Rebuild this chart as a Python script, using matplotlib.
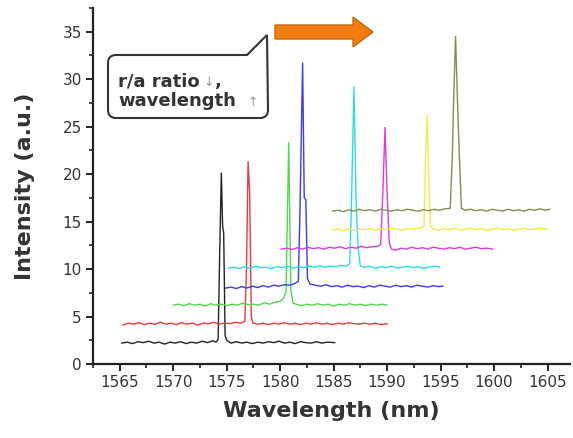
import numpy as np
import matplotlib
matplotlib.use('Agg')
import matplotlib.pyplot as plt
from matplotlib.path import Path
from matplotlib.patches import PathPatch, Polygon
from matplotlib.ticker import MultipleLocator

# ---- spectra: wavelength (nm) / intensity (a.u.) ----
x_k = [1565.2, 1565.7, 1566.2, 1566.7, 1567.2, 1567.7, 1568.2, 1568.7, 1569.2, 1569.7,
       1570.2, 1570.7, 1571.2, 1571.7, 1572.2, 1572.7, 1573.2, 1573.7, 1574.0, 1574.2,
       1574.35, 1574.5, 1574.62, 1574.72, 1574.85, 1575.0, 1575.4, 1575.9, 1576.4, 1576.9,
       1577.4, 1577.9, 1578.4, 1578.9, 1579.4, 1579.9, 1580.4, 1580.9, 1581.4, 1581.9,
       1582.4, 1582.9, 1583.4, 1583.9, 1584.4, 1585.1]
y_k = [2.2, 2.3, 2.15, 2.35, 2.25, 2.4, 2.2, 2.3, 2.1, 2.3,
       2.2, 2.35, 2.15, 2.3, 2.2, 2.4, 2.25, 2.45, 2.3, 2.6,
       12.0, 20.1, 14.5, 13.8, 3.0, 2.5, 2.2, 2.35, 2.2, 2.3,
       2.15, 2.3, 2.2, 2.35, 2.25, 2.4, 2.2, 2.3, 2.15, 2.35,
       2.25, 2.2, 2.35, 2.2, 2.3, 2.25]

x_r = [1565.3, 1565.8, 1566.3, 1566.8, 1567.3, 1567.8, 1568.3, 1568.8, 1569.3, 1569.8,
       1570.3, 1570.8, 1571.3, 1571.8, 1572.3, 1572.8, 1573.3, 1573.8, 1574.3, 1574.8,
       1575.3, 1575.8, 1576.3, 1576.7, 1576.85, 1577.0, 1577.15, 1577.3, 1577.45, 1577.9,
       1578.4, 1578.9, 1579.4, 1579.9, 1580.4, 1580.9, 1581.4, 1581.9, 1582.4, 1582.9,
       1583.4, 1583.9, 1584.4, 1584.9, 1585.4, 1585.9, 1586.4, 1586.9, 1587.4, 1587.9,
       1588.4, 1588.9, 1589.4, 1590.0]
y_r = [4.1, 4.3, 4.2, 4.35, 4.15, 4.3, 4.2, 4.4, 4.2, 4.3,
       4.15, 4.35, 4.2, 4.3, 4.1, 4.3, 4.25, 4.4, 4.2, 4.3,
       4.25, 4.4, 4.3, 4.5, 10.0, 21.3, 18.0, 5.0, 4.3, 4.2,
       4.3, 4.15, 4.3, 4.2, 4.35, 4.2, 4.3, 4.15, 4.3, 4.2,
       4.35, 4.2, 4.3, 4.15, 4.3, 4.2, 4.35, 4.25, 4.2, 4.3,
       4.2, 4.3, 4.15, 4.25]

x_g = [1570.0, 1570.5, 1571.0, 1571.5, 1572.0, 1572.5, 1573.0, 1573.5, 1574.0, 1574.5,
       1575.0, 1575.5, 1576.0, 1576.5, 1577.0, 1577.5, 1578.0, 1578.5, 1579.0, 1579.5,
       1580.0, 1580.3, 1580.55, 1580.8, 1581.0, 1581.2, 1581.5, 1582.0, 1582.5, 1583.0,
       1583.5, 1584.0, 1584.5, 1585.0, 1585.5, 1586.0, 1586.5, 1587.0, 1587.5, 1588.0,
       1588.5, 1589.0, 1589.5, 1590.0]
y_g = [6.2, 6.3, 6.15, 6.35, 6.2, 6.3, 6.1, 6.35, 6.2, 6.3,
       6.15, 6.3, 6.2, 6.4, 6.25, 6.3, 6.2, 6.45, 6.3, 6.5,
       6.6, 6.9, 7.6, 23.3, 7.8, 6.4, 6.3, 6.15, 6.3, 6.2,
       6.35, 6.2, 6.3, 6.1, 6.3, 6.2, 6.35, 6.2, 6.3, 6.15,
       6.3, 6.2, 6.3, 6.2]

x_b = [1574.9, 1575.4, 1575.9, 1576.4, 1576.9, 1577.4, 1577.9, 1578.4, 1578.9, 1579.4,
       1579.9, 1580.4, 1580.9, 1581.4, 1581.7, 1581.85, 1582.1, 1582.25, 1582.4, 1582.55,
       1582.8, 1583.3, 1583.8, 1584.3, 1584.8, 1585.3, 1585.8, 1586.3, 1586.8, 1587.3,
       1587.8, 1588.3, 1588.8, 1589.3, 1589.8, 1590.3, 1590.8, 1591.3, 1591.8, 1592.3,
       1592.8, 1593.3, 1593.8, 1594.3, 1594.8, 1595.2]
y_b = [8.0, 8.1, 7.95, 8.15, 8.0, 8.2, 8.05, 8.25, 8.1, 8.3,
       8.2, 8.35, 8.3, 8.5, 8.7, 16.0, 31.7, 17.5, 17.3, 9.0,
       8.4, 8.3, 8.2, 8.35, 8.15, 8.25, 8.1, 8.3, 8.15, 8.2,
       8.05, 8.25, 8.1, 8.3, 8.2, 8.1, 8.3, 8.15, 8.25, 8.1,
       8.3, 8.2, 8.1, 8.25, 8.15, 8.2]

x_c = [1575.2, 1575.7, 1576.2, 1576.7, 1577.2, 1577.7, 1578.2, 1578.7, 1579.2, 1579.7,
       1580.2, 1580.7, 1581.2, 1581.7, 1582.2, 1582.7, 1583.2, 1583.7, 1584.2, 1584.7,
       1585.2, 1585.7, 1586.2, 1586.5, 1586.65, 1586.9, 1587.1, 1587.3, 1587.5, 1587.9,
       1588.4, 1588.9, 1589.4, 1589.9, 1590.4, 1590.9, 1591.4, 1591.9, 1592.4, 1592.9,
       1593.4, 1593.9, 1594.4, 1594.9]
y_c = [10.1, 10.2, 10.05, 10.25, 10.1, 10.3, 10.15, 10.2, 10.05, 10.25,
       10.15, 10.3, 10.1, 10.25, 10.15, 10.3, 10.2, 10.35, 10.2, 10.3,
       10.25, 10.4, 10.3, 10.6, 16.0, 29.2, 17.0, 12.0, 10.3, 10.2,
       10.3, 10.1, 10.25, 10.15, 10.3, 10.1, 10.2, 10.3, 10.15, 10.25,
       10.1, 10.2, 10.3, 10.2]

x_m = [1580.1, 1580.6, 1581.1, 1581.6, 1582.1, 1582.6, 1583.1, 1583.6, 1584.1, 1584.6,
       1585.1, 1585.6, 1586.1, 1586.6, 1587.1, 1587.6, 1588.1, 1588.6, 1589.1, 1589.4,
       1589.6, 1589.8, 1590.0, 1590.2, 1590.4, 1590.8, 1591.3, 1591.8, 1592.3, 1592.8,
       1593.3, 1593.8, 1594.3, 1594.8, 1595.3, 1595.8, 1596.3, 1596.8, 1597.3, 1597.8,
       1598.3, 1598.8, 1599.3, 1599.9]
y_m = [12.1, 12.2, 12.05, 12.25, 12.1, 12.3, 12.15, 12.25, 12.1, 12.3,
       12.2, 12.35, 12.15, 12.3, 12.2, 12.4, 12.25, 12.35, 12.4, 12.6,
       18.0, 24.9, 18.0, 12.8, 12.1, 12.0, 12.2, 12.1, 12.3, 12.15,
       12.25, 12.1, 12.3, 12.2, 12.1, 12.25, 12.15, 12.3, 12.1, 12.2,
       12.3, 12.15, 12.2, 12.1]

x_y = [1584.9, 1585.4, 1585.9, 1586.4, 1586.9, 1587.4, 1587.9, 1588.4, 1588.9, 1589.4,
       1589.9, 1590.4, 1590.9, 1591.4, 1591.9, 1592.4, 1592.9, 1593.2, 1593.45, 1593.6,
       1593.75, 1593.9, 1594.05, 1594.3, 1594.8, 1595.3, 1595.8, 1596.3, 1596.8, 1597.3,
       1597.8, 1598.3, 1598.8, 1599.3, 1599.8, 1600.3, 1600.8, 1601.3, 1601.8, 1602.3,
       1602.8, 1603.3, 1603.8, 1604.3, 1605.0]
y_y = [14.1, 14.2, 14.05, 14.25, 14.1, 14.2, 14.15, 14.3, 14.1, 14.25,
       14.15, 14.3, 14.2, 14.1, 14.25, 14.2, 14.3, 14.35, 14.5, 22.0,
       26.2, 20.0, 14.6, 14.2, 14.1, 14.25, 14.15, 14.3, 14.1, 14.2,
       14.3, 14.15, 14.25, 14.1, 14.2, 14.3, 14.15, 14.25, 14.1, 14.2,
       14.3, 14.15, 14.2, 14.3, 14.2]

x_o = [1584.9, 1585.4, 1585.9, 1586.4, 1586.9, 1587.4, 1587.9, 1588.4, 1588.9, 1589.4,
       1589.9, 1590.4, 1590.9, 1591.4, 1591.9, 1592.4, 1592.9, 1593.4, 1593.9, 1594.4,
       1594.9, 1595.4, 1595.9, 1596.1, 1596.2, 1596.4, 1596.6, 1596.75, 1596.95, 1597.3,
       1597.8, 1598.3, 1598.8, 1599.3, 1599.8, 1600.3, 1600.8, 1601.3, 1601.8, 1602.3,
       1602.8, 1603.3, 1603.8, 1604.3, 1604.8, 1605.2]
y_o = [16.1, 16.2, 16.05, 16.25, 16.1, 16.3, 16.15, 16.25, 16.1, 16.3,
       16.2, 16.1, 16.25, 16.15, 16.3, 16.2, 16.1, 16.25, 16.15, 16.3,
       16.2, 16.35, 16.4, 22.0, 27.0, 34.5, 27.0, 22.0, 16.4, 16.2,
       16.3, 16.15, 16.25, 16.1, 16.3, 16.2, 16.1, 16.3, 16.15, 16.25,
       16.1, 16.3, 16.2, 16.35, 16.2, 16.3]

series = [
    (x_k, y_k, '#222222'),
    (x_r, y_r, '#ee3a3a'),
    (x_g, y_g, '#4fd84f'),
    (x_b, y_b, '#3a3aee'),
    (x_c, y_c, '#2adede'),
    (x_m, y_m, '#dc3adc'),
    (x_y, y_y, '#eeee44'),
    (x_o, y_o, '#8a8a4a'),
]

x_ticks = [1565, 1570, 1575, 1580, 1585, 1590, 1595, 1600, 1605]
y_ticks = [0, 5, 10, 15, 20, 25, 30, 35]

W, H = 573, 438


def px(x, y):
    """픽셀 좌표(위에서 아래) -> figure fraction"""
    return (x / W, 1 - y / H)


fig = plt.figure(figsize=(W / 100, H / 100), dpi=100)
ax = fig.add_axes([93 / W, 1 - 364 / H, 477 / W, 356 / H])

for xs, ys, col in series:
    ax.plot(xs, ys, color=col, lw=1.0)

ax.set_xlim(1562.5, 1607.1)
ax.set_ylim(0, 37.5)
ax.set_xticks(x_ticks)
ax.set_yticks(y_ticks)
ax.xaxis.set_minor_locator(MultipleLocator(2.5))
ax.yaxis.set_minor_locator(MultipleLocator(2.5))
for s in ['top', 'right']:
    ax.spines[s].set_visible(False)
for s in ['left', 'bottom']:
    ax.spines[s].set_linewidth(1.6)
    ax.spines[s].set_color('#222222')
ax.tick_params(which='major', length=5, width=1.4, color='#222222',
               labelsize=11, labelcolor='#333333', pad=3)
ax.tick_params(which='minor', length=3, width=1.2, color='#222222')

ax.set_xlabel('Wavelength (nm)', fontsize=16, fontweight='bold',
              color='#333333', labelpad=8)
ax.set_ylabel('Intensity (a.u.)', fontsize=16, fontweight='bold',
              color='#333333', labelpad=20)

# ---- callout box with tail ----
r = 8
verts = [
    (108 + r, 55), (247, 55), (267, 35), (268, 118 - r),
    (268, 118), (268 - r, 118),
    (108 + r, 118),
    (108, 118), (108, 118 - r),
    (108, 55 + r),
    (108, 55), (108 + r, 55),
    (108 + r, 55),
]
codes = [Path.MOVETO, Path.LINETO, Path.LINETO, Path.LINETO,
         Path.CURVE3, Path.CURVE3,
         Path.LINETO,
         Path.CURVE3, Path.CURVE3,
         Path.LINETO,
         Path.CURVE3, Path.CURVE3,
         Path.CLOSEPOLY]
callout = PathPatch(Path([px(*v) for v in verts], codes),
                    transform=fig.transFigure, facecolor='white',
                    edgecolor='#333333', lw=1.5, zorder=5)
fig.patches.append(callout)

fig.text(*px(118, 86), 'r/a ratio', transform=fig.transFigure, fontsize=13,
         fontweight='bold', color='#333333', va='baseline', zorder=6)
fig.text(*px(203, 86), '\u2193', transform=fig.transFigure, fontsize=9,
         color='#999999', va='baseline', zorder=6)
fig.text(*px(215, 86), ',', transform=fig.transFigure, fontsize=13,
         fontweight='bold', color='#333333', va='baseline', zorder=6)
fig.text(*px(118, 106), 'wavelength', transform=fig.transFigure, fontsize=13,
         fontweight='bold', color='#333333', va='baseline', zorder=6)
fig.text(*px(247, 106), '\u2191', transform=fig.transFigure, fontsize=9,
         color='#999999', va='baseline', zorder=6)

# ---- orange block arrow ----
arrow_pts = [(275, 25), (353, 25), (353, 17), (373, 32), (353, 47),
             (353, 39), (275, 39)]
arrow = Polygon([px(*p) for p in arrow_pts], closed=True,
                transform=fig.transFigure, facecolor='#f07c12',
                edgecolor='#c9650e', lw=1.0, zorder=5)
fig.patches.append(arrow)

plt.savefig('out.png', dpi=100)
